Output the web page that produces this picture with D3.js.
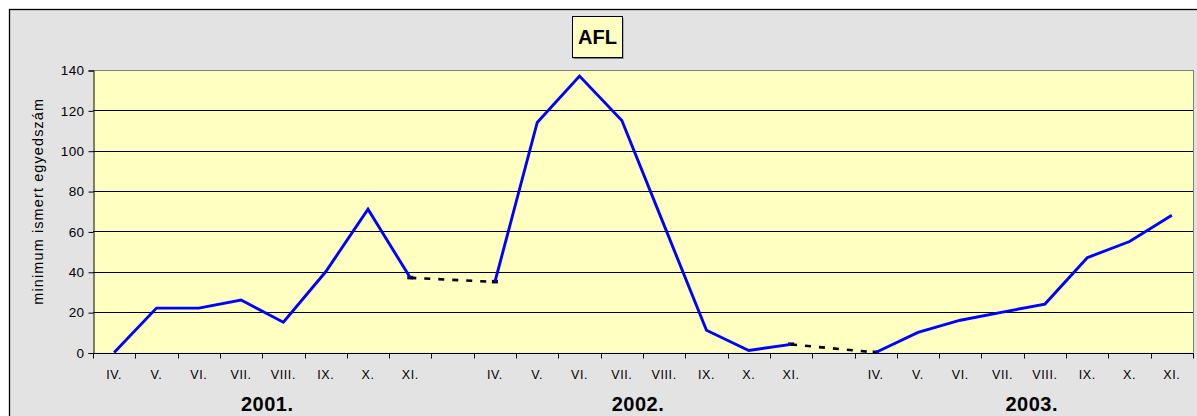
<!DOCTYPE html>
<html>
<head>
<meta charset="utf-8">
<script src="https://cdn.jsdelivr.net/npm/d3@7"></script>
<style>
  html, body { margin: 0; padding: 0; background: #fff; }
  svg { display: block; }
  text { font-family: Arial, "Liberation Sans", sans-serif; }
</style>
</head>
<body>
<svg id="chart" width="1197" height="416"></svg>
<script>
// Months shown each season (April to November)
const months = ["IV.", "V.", "VI.", "VII.", "VIII.", "IX.", "X.", "XI."];
const years = ["2001.", "2002.", "2003."];
// Minimum known individual counts per month
const counts2001 = [0, 22, 22, 26, 15, 40, 71, 37];
const counts2002 = [35, 114, 137, 115, 63, 11, 1, 4];
const counts2003 = [0, 10, 16, 20, 24, 47, 55, 68];
const yTicks = [0, 20, 40, 60, 80, 100, 120, 140];
const title = "AFL";
const yTitle = "minimum ismert egyedszám";

const seasons = [counts2001, counts2002, counts2003];

// Slots along the x axis: 8 months per year with one empty slot between years
const slots = [];
seasons.forEach((vals, s) => {
  months.forEach((m, i) => slots.push({ key: `${s}-${i}`, label: m, value: vals[i], season: s }));
  if (s < seasons.length - 1) slots.push({ key: `gap-${s}`, label: "", value: null, season: s });
});

const svg = d3.select("#chart");
const W = 1197, H = 416;
const plot = { left: 93, top: 70, right: 1193, bottom: 352.5 };

// Outer chart area
svg.append("rect").attr("x", 9.5).attr("y", 9.5).attr("width", W).attr("height", H)
  .attr("fill", "#e3e3e3").attr("stroke", "#000").attr("stroke-width", 1.3);

const x = d3.scaleBand().domain(slots.map(d => d.key)).range([plot.left, plot.right]);
const y = d3.scaleLinear().domain([0, 140]).range([plot.bottom, plot.top]);

// Plot background
svg.append("rect")
  .attr("x", plot.left).attr("y", plot.top)
  .attr("width", plot.right - plot.left).attr("height", plot.bottom - plot.top)
  .attr("fill", "#ffffc2");

// Horizontal gridlines
svg.append("g").selectAll("line").data(yTicks.slice(1)).join("line")
  .attr("x1", plot.left).attr("x2", plot.right)
  .attr("y1", d => Math.round(y(d)) + 0.5).attr("y2", d => Math.round(y(d)) + 0.5)
  .attr("stroke", d => d === 140 ? "#808080" : "#000").attr("stroke-width", 1);

// Right border of plot area
svg.append("line").attr("x1", plot.right + 0.5).attr("x2", plot.right + 0.5)
  .attr("y1", plot.top).attr("y2", plot.bottom).attr("stroke", "#808080");

// Y axis
const yAxis = d3.axisLeft(y).tickValues(yTicks).tickSize(5).tickPadding(4);
const gy = svg.append("g").attr("transform", `translate(${plot.left + 0.5},0.5)`).call(yAxis);
gy.select(".domain").attr("stroke", "#000");
gy.selectAll(".tick line").attr("stroke", "#000");
gy.selectAll(".tick text").attr("font-size", 13.5).attr("fill", "#000")
  .attr("letter-spacing", 0.4)
  .attr("font-family", "Arial, 'Liberation Sans', sans-serif");

// X axis: ticks at slot boundaries, labels at slot centres
const gx = svg.append("g").attr("transform", `translate(0,${Math.round(plot.bottom) + 0.5})`);
gx.append("line").attr("x1", plot.left).attr("x2", plot.right + 1).attr("stroke", "#000");
const bounds = slots.map(d => x(d.key)).concat([plot.right]);
gx.selectAll("line.tick").data(bounds).join("line").attr("class", "tick")
  .attr("x1", d => Math.round(d) + 0.5).attr("x2", d => Math.round(d) + 0.5)
  .attr("y1", 0).attr("y2", 5).attr("stroke", "#000");
gx.selectAll("text").data(slots.filter(d => d.label)).join("text")
  .attr("x", d => x(d.key) + x.bandwidth() / 2)
  .attr("y", 25.5)
  .attr("text-anchor", "middle")
  .attr("font-size", 12.5)
  .attr("letter-spacing", 0.6)
  .attr("fill", "#000")
  .text(d => d.label);

// Year labels centred under each season
years.forEach((yr, s) => {
  const first = x(`${s}-0`), last = x(`${s}-${months.length - 1}`) + x.bandwidth();
  svg.append("text")
    .attr("x", (first + last) / 2 + [5, -5, 8][s])
    .attr("y", 411)
    .attr("text-anchor", "middle")
    .attr("font-size", 20)
    .attr("letter-spacing", 0.5)
    .attr("font-weight", "bold")
    .attr("fill", "#000")
    .text(yr);
});

// Y axis title
svg.append("text")
  .attr("transform", `translate(42.5,${(plot.top + plot.bottom) / 2 - 10}) rotate(-90)`)
  .attr("text-anchor", "middle")
  .attr("font-size", 14.5)
  .attr("letter-spacing", 1.1)
  .attr("fill", "#000")
  .text(yTitle);

const cx = d => x(d.key) + x.bandwidth() / 2;

// Dashed connectors across the winter gaps
for (let s = 0; s < seasons.length - 1; s++) {
  const a = slots.find(d => d.key === `${s}-${months.length - 1}`);
  const b = slots.find(d => d.key === `${s + 1}-0`);
  svg.append("line")
    .attr("x1", cx(a)).attr("y1", y(a.value))
    .attr("x2", cx(b)).attr("y2", y(b.value))
    .attr("stroke", "#000").attr("stroke-width", 2.6)
    .attr("stroke-dasharray", "6,8");
  [a, b].forEach(p => svg.append("rect")
    .attr("x", cx(p) - 3).attr("y", y(p.value) - 2).attr("width", 6).attr("height", 3.5)
    .attr("fill", "#000"));
}

// Season lines
const line = d3.line().x(cx).y(d => y(d.value));
seasons.forEach((vals, s) => {
  svg.append("path")
    .datum(slots.filter(d => d.season === s && d.value !== null))
    .attr("d", line)
    .attr("fill", "none")
    .attr("stroke", "#0000ff")
    .attr("stroke-width", 2.9)
    .attr("stroke-linejoin", "miter");
});

// Title box
const tb = { x: 572.5, y: 16.5, w: 50, h: 41 };
svg.append("rect").attr("x", tb.x + 1).attr("y", tb.y + 1.5).attr("width", tb.w).attr("height", tb.h)
  .attr("fill", "#7a7a7a");
svg.append("rect").attr("x", tb.x).attr("y", tb.y).attr("width", tb.w).attr("height", tb.h)
  .attr("fill", "#ffffc2").attr("stroke", "#000").attr("stroke-width", 1);
svg.append("text")
  .attr("x", tb.x + tb.w / 2).attr("y", 44)
  .attr("text-anchor", "middle")
  .attr("font-size", 20)
  .attr("font-weight", "bold")
  .attr("fill", "#000")
  .text(title);
</script>
</body>
</html>
